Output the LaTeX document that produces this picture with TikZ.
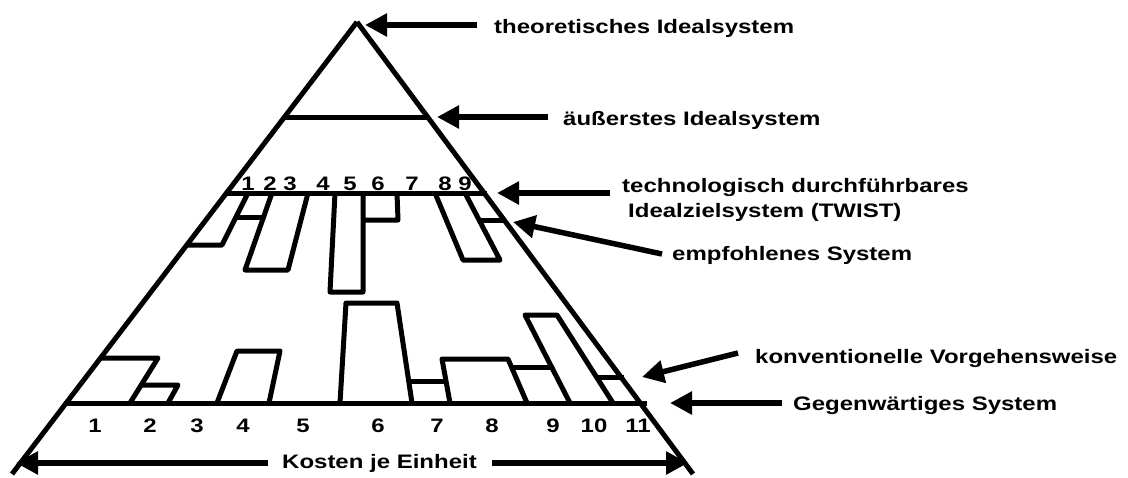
\documentclass[tikz,border=0pt]{standalone}
\usepackage{fontspec}
\setmainfont{Liberation Sans}
\usetikzlibrary{arrows.meta}
% bold Arial-like text, widened horizontally
\newcommand\widetext[1]{\scalebox{1.23}[1]{#1}}
\begin{document}
\begin{tikzpicture}[x=1pt,y=-1pt,
  ln/.style={line width=5pt,line join=round},
  arr/.style={line width=5.5pt,-{Triangle[length=22pt,width=22pt]}},
  lbl/.style={font=\bfseries\fontsize{19.5}{23}\selectfont,inner sep=0pt,anchor=base west},
  num/.style={font=\bfseries\fontsize{19.5}{23}\selectfont,inner sep=0pt,anchor=base},
]
\useasboundingbox (0,0) rectangle (1128,477);

% pyramid
\coordinate (apex) at (357,22);
\coordinate (bl) at (12,474);
\coordinate (br) at (693,474);
\draw[ln] (apex) -- (bl);
\draw[ln] (apex) -- (br);

% levels
\draw[ln] (284,117) -- (428,117);
\draw[ln] (226,193) -- (487,193);
\draw[ln] (64,403) -- (647,403);

% recommended system (below the TWIST level)
\draw[ln] (248,193) -- (222,245) -- (187,245);
\draw[ln] (236,217) -- (263.6,217);
\draw[ln] (272,193) -- (245,270) -- (288,270) -- (308,193);
\draw[ln] (335,193) -- (330,292) -- (363,292) -- (363,193);
\draw[ln] (363,220) -- (398,220) -- (397,193);
\draw[ln] (435,193) -- (463,260) -- (500,260) -- (465,193);
\draw[ln] (479,220) -- (505,220);

% conventional approach (above the current system)
\draw[ln] (100,358) -- (158,358) -- (130,403);
\draw[ln] (141,385) -- (178,385) -- (168,403);
\draw[ln] (217,403) -- (237,351) -- (280,351) -- (269,403);
\draw[ln] (340,403) -- (346,303) -- (397,303) -- (412,403);
\draw[ln] (408.7,381) -- (446,381);
\draw[ln] (450,403) -- (442,359) -- (508,359) -- (527,403);
\draw[ln] (511.5,367) -- (551.6,367);
\draw[ln] (570,403) -- (525,315) -- (557,315) -- (613,403);
\draw[ln] (596.5,377) -- (624,377);

% numbering, upper level
\foreach \n/\x in {1/248,2/270,3/290,4/323,5/350,6/378,7/412,8/445,9/465}
  \node[num] (u\n) at (\x,190) {\widetext{\n}};
% numbering, current system
\foreach \n/\x in {1/95,2/150,3/197,4/243,5/303,6/378,7/437,8/492,9/553,10/594,11/638}
  \node[num] (b\n) at (\x,432) {\widetext{\n}};

% captions
\node[lbl] (theo)  at (494,33)  {\widetext{theoretisches Idealsystem}};
\node[lbl] (auss)  at (563,125) {\widetext{äußerstes Idealsystem}};
\node[lbl] (tech)  at (622,192) {\widetext{technologisch durchführbares}};
\node[lbl] (twist) at (628,217) {\widetext{Idealzielsystem (TWIST)}};
\node[lbl] (empf)  at (672,260) {\widetext{empfohlenes System}};
\node[lbl] (konv)  at (755,363) {\widetext{konventionelle Vorgehensweise}};
\node[lbl] (gegen) at (793,410) {\widetext{Gegenwärtiges System}};
\node[lbl] (kost)  at (282,468) {\widetext{Kosten je Einheit}};

% arrow ends
\coordinate (theoTail)  at (477,25);  \coordinate (theoTip)  at (365,25);
\coordinate (aussTail)  at (548,117); \coordinate (aussTip)  at (437,117);
\coordinate (techTail)  at (610,193); \coordinate (techTip)  at (497,193);
\coordinate (empfTail)  at (662,254); \coordinate (empfTip)  at (513,222);
\coordinate (konvTail)  at (738,353); \coordinate (konvTip)  at (642,377);
\coordinate (gegenTail) at (782,403); \coordinate (gegenTip) at (670,403);
\coordinate (kostL)     at (268,463); \coordinate (kostLTip) at (16,463);
\coordinate (kostR)     at (492,463); \coordinate (kostRTip) at (688,463);

\draw[arr] (theoTail) -- (theoTip);
\draw[arr] (aussTail) -- (aussTip);
\draw[arr] (techTail) -- (techTip);
\draw[arr] (empfTail) -- (empfTip);
\draw[arr] (konvTail) -- (konvTip);
\draw[arr] (gegenTail) -- (gegenTip);
\draw[arr] (kostL) -- (kostLTip);
\draw[arr] (kostR) -- (kostRTip);
\end{tikzpicture}
\end{document}
